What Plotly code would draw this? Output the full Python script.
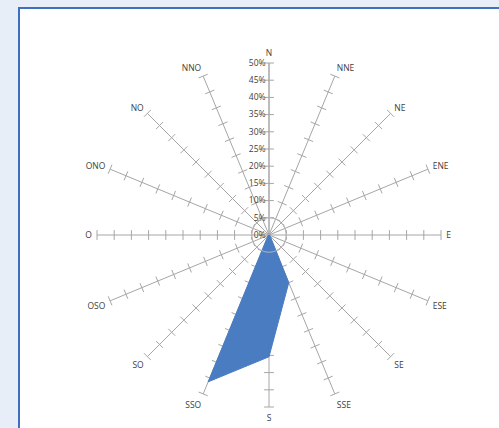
import plotly.graph_objects as go

directions = ["N", "NNE", "NE", "ENE", "E", "ESE", "SE", "SSE",
              "S", "SSO", "SO", "OSO", "O", "ONO", "NO", "NNO"]
frequency = [0, 0, 0, 0, 0, 0, 0.5, 15, 35.4, 46.2, 0.5, 0, 0, 0, 0, 0]
radial_ticks = [0, 5, 10, 15, 20, 25, 30, 35, 40, 45, 50]

W, H = 499, 428
cx, cy, R = 269, 235, 172

fig = go.Figure()

# small circle near centre
circle_theta = list(range(0, 361, 5))
fig.add_trace(go.Scatterpolar(
    r=[radial_ticks[1]] * len(circle_theta), theta=circle_theta, thetaunit="degrees",
    mode="lines", line=dict(color="#b8b8b8", width=1), hoverinfo="skip",
    showlegend=False, subplot="polar2"))

# tick marks on each spoke
tr, tt, ta = [], [], []
for i, d in enumerate(directions):
    for v in radial_ticks[1:]:
        tr.append(v)
        tt.append(d)
        ta.append(i * 22.5)
fig.add_trace(go.Scatterpolar(
    r=tr, theta=tt, mode="markers",
    marker=dict(symbol="line-ew", size=7, angle=ta,
                line=dict(color="#a6a6a6", width=1), color="#a6a6a6"),
    hoverinfo="skip", showlegend=False))

# data area
fig.add_trace(go.Scatterpolar(
    r=frequency + [frequency[0]], theta=directions + [directions[0]],
    mode="lines", fill="toself", fillcolor="#4a7cc2",
    line=dict(color="#4a7cc2", width=1), hoverinfo="skip", showlegend=False))

dom_x = [(cx - R) / W, (cx + R) / W]
dom_y = [(H - cy - R) / H, (H - cy + R) / H]

fig.update_layout(
    width=W, height=H,
    margin=dict(l=0, r=0, t=0, b=0),
    paper_bgcolor="#e8eef7",
    plot_bgcolor="white",
    shapes=[dict(type="rect", xref="paper", yref="paper",
                 x0=19 / W, x1=1.02, y0=-0.02, y1=1 - 8 / H,
                 fillcolor="white", line=dict(color="#3f6fbf", width=2),
                 layer="below")],
    polar=dict(
        domain=dict(x=dom_x, y=dom_y),
        bgcolor="rgba(0,0,0,0)",
        angularaxis=dict(
            rotation=90, direction="clockwise", type="category",
            categoryarray=directions,
            showline=False, showgrid=True, gridcolor="#a6a6a6", gridwidth=1,
            ticks="outside", ticklen=3, tickcolor="rgba(0,0,0,0)",
            tickfont=dict(family="Open Sans", size=8.5, color="#404040")),
        radialaxis=dict(
            range=[0, 50], angle=90, tickangle=90, side="counterclockwise",
            tickvals=radial_ticks, ticktext=[f"{v}%" for v in radial_ticks],
            showgrid=False, showline=True, linecolor="#a6a6a6", ticks="",
            tickfont=dict(family="Open Sans", size=8.5, color="#404040")),
    ),
    polar2=dict(
        domain=dict(x=dom_x, y=dom_y),
        bgcolor="rgba(0,0,0,0)",
        angularaxis=dict(visible=False, rotation=90, direction="clockwise"),
        radialaxis=dict(visible=False, range=[0, 50]),
    ),
)

fig.write_html("out.html",
               config={"displayModeBar": False},
               post_script="document.body.style.margin='0';"
                           "document.body.style.overflow='hidden';")
